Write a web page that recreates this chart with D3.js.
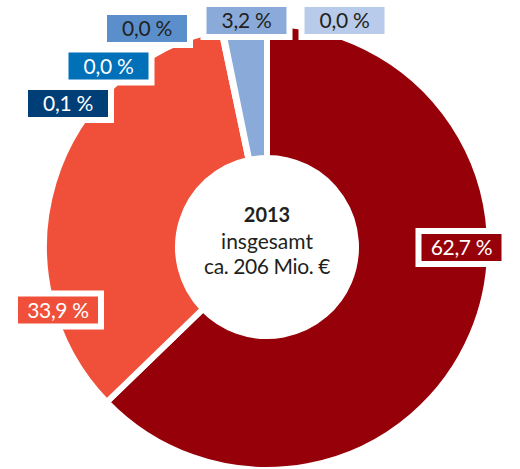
<!DOCTYPE html>
<html>
<head>
<meta charset="utf-8">
<script src="https://cdn.jsdelivr.net/npm/d3@7"></script>
<style>
  html, body { margin: 0; padding: 0; background: #fff; }
  svg { display: block; font-family: Lato, "Noto Sans", sans-serif; }
</style>
</head>
<body>
<svg id="chart" width="520" height="469"></svg>
<script>
// Shares of the 2013 total, clockwise from 12 o'clock
const categories = ["Segment 1", "Segment 2", "Segment 3", "Segment 4", "Segment 5", "Segment 6", "Segment 7"];
const shares = [62.7, 33.9, 0.1, 0.0, 0.0, 3.2, 0.0];
const shareLabels = ["62,7 %", "33,9 %", "0,1 %", "0,0 %", "0,0 %", "3,2 %", "0,0 %"];
const centerLines = ["2013", "insgesamt", "ca. 206 Mio. €"];

// Styling per segment
const fills = ["#960009", "#f0503a", "#003e78", "#0070b9", "#5a8fcc", "#8aabd9", "#b9cbea"];
const textFills = ["#fff", "#fff", "#fff", "#fff", "#231f20", "#231f20", "#231f20"];

// Label box centres, placed around the ring
const labelCenters = [
  [461.5, 247.5], [58, 310], [68, 103.5], [108.5, 66],
  [147, 28.5], [246.5, 20.5], [344.5, 20.5]
];

const svg = d3.select("#chart");
const cx = 267, cy = 247;
const outerR = 220, innerR = 92, gap = 6;

const data = categories.map((c, i) => ({ name: c, value: shares[i], i }));

const pie = d3.pie().sort(null).value(d => d.value);
const arc = d3.arc()
  .innerRadius(innerR - gap / 2)
  .outerRadius(outerR + gap / 2);

const g = svg.append("g").attr("transform", `translate(${cx},${cy})`);
g.selectAll("path.slice")
  .data(pie(data))
  .join("path")
  .attr("class", "slice")
  .attr("d", arc)
  .attr("fill", d => fills[d.data.i])
  .attr("stroke", "#fff")
  .attr("stroke-width", gap);

// Value labels: coloured boxes with a white margin
const boxW = 80, boxH = 27, margin = 6;
const labels = svg.append("g").selectAll("g.label")
  .data(data)
  .join("g")
  .attr("class", "label")
  .attr("transform", d => `translate(${labelCenters[d.i][0]},${labelCenters[d.i][1]})`);

labels.append("rect")
  .attr("x", -boxW / 2 - margin).attr("y", -boxH / 2 - margin)
  .attr("width", boxW + 2 * margin).attr("height", boxH + 2 * margin)
  .attr("fill", "#fff");
labels.append("rect")
  .attr("x", -boxW / 2).attr("y", -boxH / 2)
  .attr("width", boxW).attr("height", boxH)
  .attr("fill", d => fills[d.i]);
labels.append("text")
  .attr("text-anchor", "middle")
  .attr("y", 7.5)
  .attr("font-size", 21)
  .attr("letter-spacing", -0.3)
  .attr("fill", d => textFills[d.i])
  .text(d => shareLabels[d.i]);

// Centre caption
const caption = svg.append("g").attr("transform", `translate(${cx},0)`);
caption.append("text")
  .attr("text-anchor", "middle").attr("y", 222)
  .attr("font-size", 20).attr("font-weight", "bold").attr("fill", "#231f20")
  .text(centerLines[0]);
caption.append("text")
  .attr("text-anchor", "middle").attr("y", 249)
  .attr("font-size", 21).attr("fill", "#231f20")
  .text(centerLines[1]);
caption.append("text")
  .attr("text-anchor", "middle").attr("y", 274)
  .attr("font-size", 21).attr("letter-spacing", -0.4).attr("fill", "#231f20")
  .text(centerLines[2]);
</script>
</body>
</html>
